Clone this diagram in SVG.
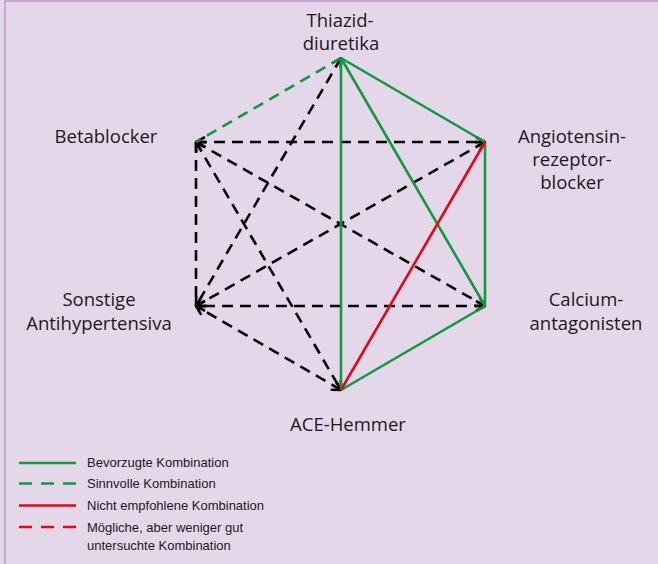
<svg xmlns="http://www.w3.org/2000/svg" width="658" height="564" viewBox="0 0 658 564">
<defs>
<marker id="arr" viewBox="0 0 12 12" refX="11" refY="6" markerWidth="12" markerHeight="12" markerUnits="userSpaceOnUse" orient="auto-start-reverse">
<path d="M2,1 L11,6 L2,11" fill="none" stroke="#000" stroke-width="2.6" stroke-linejoin="miter"/>
</marker>
</defs>
<style>
.lbl{font-family:"Open Sans","Liberation Sans",sans-serif;font-size:18.5px;fill:#1a1a1a;text-anchor:middle}
.leg{font-family:"Liberation Sans",Arial,sans-serif;font-size:13px;fill:#1a1a1a}
.g{stroke:#119a3d;stroke-width:2.6;fill:none}
.r{stroke:#e3061b;stroke-width:2.6;fill:none}
.d{stroke-dasharray:11 7}
.k{stroke:#000;stroke-width:2.6;fill:none;stroke-dasharray:11 7}
.ka{marker-start:url(#arr);marker-end:url(#arr)}
</style>
<rect x="0" y="0" width="658" height="564" fill="#e4d7ea"/>
<line x1="5" y1="0" x2="5" y2="564" stroke="#c7a6d2" stroke-width="2"/>
<line x1="5" y1="1" x2="658" y2="1" stroke="#c7a6d2" stroke-width="2"/>
<g id="connectors">
<line class="k" x1="196" y1="142" x2="196" y2="306"/>
<line class="k ka" x1="196" y1="142" x2="485" y2="142"/>
<line class="k ka" x1="196" y1="142" x2="485" y2="306"/>
<line class="k ka" x1="196" y1="142" x2="341" y2="390"/>
<line class="k ka" x1="341" y1="58" x2="196" y2="306"/>
<line class="k ka" x1="485" y1="142" x2="196" y2="306"/>
<line class="k ka" x1="485" y1="306" x2="196" y2="306"/>
<line class="k ka" x1="341" y1="390" x2="196" y2="306"/>
<line class="g d" x1="341" y1="58" x2="196" y2="142"/>
<line class="g" x1="341" y1="58" x2="485" y2="142"/>
<line class="g" x1="341" y1="58" x2="485" y2="306"/>
<line class="g" x1="341" y1="58" x2="341" y2="390"/>
<line class="g" x1="485" y1="142" x2="485" y2="306"/>
<line class="g" x1="485" y1="306" x2="341" y2="390"/>
<line class="r" x1="485" y1="142" x2="341" y2="390"/>
</g>
<g id="thiazid"><text class="lbl" x="340" y="27">Thiazid-</text><text class="lbl" x="341" y="50">diuretika</text></g>
<g id="betablocker"><text class="lbl" x="106" y="143">Betablocker</text></g>
<g id="angiotensin"><text class="lbl" x="572" y="143">Angiotensin-</text><text class="lbl" x="572" y="166">rezeptor-</text><text class="lbl" x="572" y="189">blocker</text></g>
<g id="sonstige"><text class="lbl" x="99" y="306">Sonstige</text><text class="lbl" x="99" y="330">Antihypertensiva</text></g>
<g id="calcium"><text class="lbl" x="586" y="306">Calcium-</text><text class="lbl" x="586" y="330">antagonisten</text></g>
<g id="ace"><text class="lbl" x="348" y="431">ACE-Hemmer</text></g>
<g id="legend">
<line class="g" x1="19" y1="463" x2="76" y2="463"/>
<text class="leg" x="87" y="467">Bevorzugte Kombination</text>
<line class="g" x1="19" y1="483.5" x2="76" y2="483.5" stroke-dasharray="13 9"/>
<text class="leg" x="87" y="488">Sinnvolle Kombination</text>
<line class="r" x1="19" y1="505.5" x2="76" y2="505.5"/>
<text class="leg" x="87" y="510">Nicht empfohlene Kombination</text>
<line class="r" x1="19" y1="527" x2="76" y2="527" stroke-dasharray="13 9"/>
<text class="leg" x="87" y="532">Mögliche, aber weniger gut</text>
<text class="leg" x="87" y="550">untersuchte Kombination</text>
</g>
</svg>
